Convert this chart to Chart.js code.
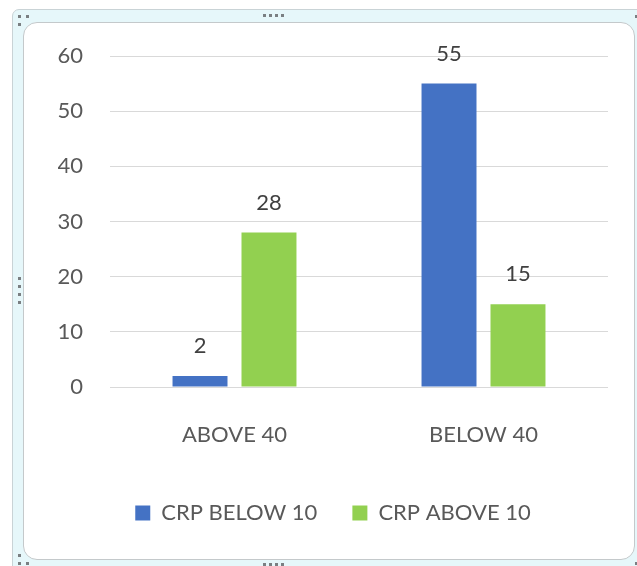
<!DOCTYPE html>
<html>
<head>
<meta charset="utf-8">
<script src="https://cdn.jsdelivr.net/npm/chart.js@4"></script>
<style>
  html, body { margin: 0; padding: 0; background: #ffffff; width: 637px; height: 566px; overflow: hidden; }
  #outer { position: absolute; left: 12px; top: 9px; width: 640px; height: 570px; background: #e6f7fa; border: 1px solid #c9d3d6; border-radius: 7px; box-sizing: border-box; }
  #inner { position: absolute; left: 23px; top: 22px; width: 612px; height: 538px; background: #ffffff; border: 1px solid #c4c9cb; border-radius: 14px; box-sizing: border-box; }
  .d { position: absolute; width: 3px; height: 3px; background: #7a7f82; }
  #c { position: absolute; left: 0; top: 0; }
</style>
</head>
<body>
<div id="outer"></div>
<div id="inner"></div>
<div class="d" style="left:18px;top:15px"></div>
<div class="d" style="left:26px;top:15px"></div>
<div class="d" style="left:18px;top:23px"></div>
<div class="d" style="left:263px;top:14px"></div>
<div class="d" style="left:269px;top:14px"></div>
<div class="d" style="left:275px;top:14px"></div>
<div class="d" style="left:281px;top:14px"></div>
<div class="d" style="left:18px;top:277px"></div>
<div class="d" style="left:18px;top:285px"></div>
<div class="d" style="left:18px;top:293px"></div>
<div class="d" style="left:18px;top:301px"></div>
<div class="d" style="left:18px;top:554px"></div>
<div class="d" style="left:18px;top:562px"></div>
<div class="d" style="left:26px;top:562px"></div>
<div class="d" style="left:263px;top:563px"></div>
<div class="d" style="left:269px;top:563px"></div>
<div class="d" style="left:275px;top:563px"></div>
<div class="d" style="left:281px;top:563px"></div>
<div class="d" style="left:635px;top:15px"></div>
<div class="d" style="left:635px;top:562px"></div>
<canvas id="c" width="637" height="566"></canvas>
<script>
const categories = ["ABOVE 40", "BELOW 40"];
const seriesNames = ["CRP BELOW 10", "CRP ABOVE 10"];
const crpBelow10 = [2, 55];
const crpAbove10 = [28, 15];
const yTicks = [0, 10, 20, 30, 40, 50, 60];

const FONT = "Lato, 'Open Sans', sans-serif";

const dataLabels = {
  id: 'dataLabels',
  afterDatasetsDraw(chart) {
    const ctx = chart.ctx;
    ctx.save();
    ctx.font = "22px " + FONT;
    ctx.fillStyle = "#404040";
    ctx.textAlign = "center";
    ctx.textBaseline = "middle";
    chart.data.datasets.forEach((ds, i) => {
      const meta = chart.getDatasetMeta(i);
      meta.data.forEach((bar, j) => {
        ctx.fillText(String(ds.data[j]), bar.x, bar.y - 30);
      });
    });
    ctx.restore();
  }
};

new Chart(document.getElementById('c'), {
  type: 'bar',
  data: {
    labels: categories,
    datasets: [
      { label: seriesNames[0], data: crpBelow10, backgroundColor: "#4472c4", categoryPercentage: 0.554, barPercentage: 0.797 },
      { label: seriesNames[1], data: crpAbove10, backgroundColor: "#92d050", categoryPercentage: 0.554, barPercentage: 0.797 }
    ]
  },
  options: {
    responsive: false,
    animation: false,
    devicePixelRatio: 1,
    layout: { padding: { left: 58, right: 29, top: 56, bottom: 32 } },
    plugins: {
      tooltip: { enabled: false },
      legend: {
        position: 'bottom',
        labels: {
          boxWidth: 15,
          boxHeight: 15,
          padding: 35,
          color: "#595959",
          font: { family: FONT, size: 22 }
        }
      }
    },
    scales: {
      x: {
        grid: { display: false, drawTicks: false },
        border: { display: false },
        afterFit(scale) { scale.height = 80; },
        ticks: { color: "#595959", padding: 16, font: { family: FONT, size: 22, lineHeight: 64 / 22 } }
      },
      y: {
        min: 0,
        max: 60,
        afterBuildTicks(scale) { scale.ticks = yTicks.map(v => ({ value: v })); },
        afterFit(scale) { scale.width = 52; },
        grid: { color: "#d9d9d9", lineWidth: 1, drawTicks: false },
        border: { display: false },
        ticks: { color: "#595959", padding: 27, font: { family: FONT, size: 22 } }
      }
    }
  },
  plugins: [dataLabels]
});
</script>
</body>
</html>
